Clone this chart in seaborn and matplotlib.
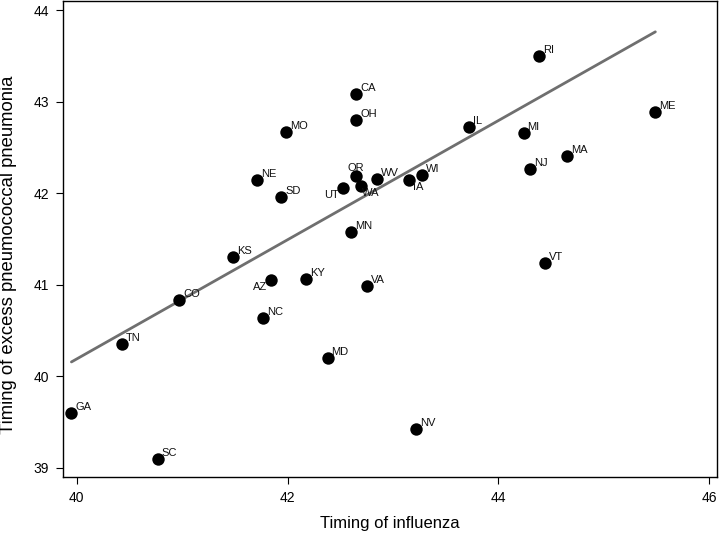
import matplotlib
matplotlib.use("Agg")
import matplotlib.pyplot as plt
import seaborn as sns
import numpy as np
import pandas as pd

states = ["GA", "SC", "TN", "CO", "KS", "NE", "MO", "SD", "AZ", "NC", "KY",
          "MD", "UT", "OR", "WA", "CA", "OH", "MN", "VA", "WV", "NV", "IA",
          "WI", "IL", "MI", "NJ", "RI", "VT", "MA", "ME"]
influenza = [39.95, 40.77, 40.43, 40.97, 41.48, 41.71, 41.99, 41.94, 41.84, 41.77, 42.18,
             42.38, 42.53, 42.65, 42.70, 42.65, 42.65, 42.60, 42.75, 42.85, 43.22, 43.15,
             43.28, 43.72, 44.24, 44.30, 44.39, 44.44, 44.65, 45.49]
pneumonia = [39.60, 39.10, 40.35, 40.83, 41.30, 42.15, 42.67, 41.96, 41.05, 40.64, 41.06,
             40.20, 42.06, 42.19, 42.08, 43.08, 42.80, 41.58, 40.99, 42.16, 39.43, 42.14,
             42.20, 42.72, 42.66, 42.26, 43.50, 41.24, 42.41, 42.89]

# fitted line as drawn in the figure
fit_intercept = 14.15
fit_slope = 0.651

# labels that sit somewhere other than up-right of the dot
# (dx px, dy px, ha, va)
label_place = {
    "UT": (-4, -2, "right", "top"),
    "AZ": (-4, -2, "right", "top"),
    "WA": (1, -2, "left", "top"),
    "IA": (4, -2, "left", "top"),
    "OR": (0, 3, "center", "bottom"),
}

df = pd.DataFrame({"state": states, "flu": influenza, "pneu": pneumonia})

sns.set_style("ticks")
plt.rcParams["font.family"] = ["Liberation Sans", "DejaVu Sans"]
plt.rcParams["text.color"] = "black"
plt.rcParams["axes.labelcolor"] = "black"
plt.rcParams["xtick.color"] = "black"
plt.rcParams["ytick.color"] = "black"

fig = plt.figure(figsize=(7.2, 5.36), dpi=100)
ax = fig.add_axes([0.0875, 0.110, 0.9085, 0.888])

xs = np.array([df["flu"].min(), df["flu"].max()])
ax.plot(xs, fit_intercept + fit_slope * xs, color="#6f6f6f", lw=2.0, zorder=1)
sns.scatterplot(x="flu", y="pneu", data=df, ax=ax, s=80, color="black",
                linewidth=0, zorder=2)

px = 72 / fig.dpi
for s, xv, yv in zip(states, influenza, pneumonia):
    dx, dy, ha, va = label_place.get(s, (4, 1, "left", "bottom"))
    ax.annotate(s, (xv, yv), xytext=(dx * px, dy * px), textcoords="offset points",
                ha=ha, va=va, fontsize=8, color="#111111")

ax.set_xlim(39.87, 46.076)
ax.set_ylim(38.90, 44.10)
ax.set_xticks([40, 42, 44, 46])
ax.set_yticks([39, 40, 41, 42, 43, 44])
ax.tick_params(labelsize=10, length=5, width=0.8, colors="black", pad=5)
for sp in ax.spines.values():
    sp.set_visible(True)
    sp.set_color("black")
    sp.set_linewidth(1.0)
ax.set_xlabel("Timing of influenza", fontsize=12, labelpad=8)
ax.set_ylabel("Timing of excess pneumococcal pneumonia", fontsize=13.3, va="center")
ax.yaxis.set_label_coords(-0.083, 0.466)

fig.savefig("out.png", dpi=100)
